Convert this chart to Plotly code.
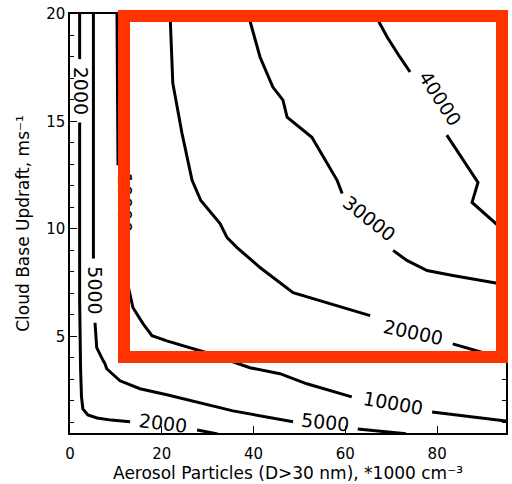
import plotly.graph_objects as go

levels = ["2000", "5000", "10000", "20000", "30000", "40000"]

c2000_x = [2.1, 2.1, None, 2.1, 2.1, 2.3, 2.5, 2.8, 3.9, 5.9, 9.0, 13.1, None, 27.7, 32.2]
c2000_y = [20.0, 17.9, None, 14.95, 6.7, 3.5, 2.2, 1.62, 1.34, 1.2, 1.1, 1.02, None, 0.64, 0.46]

c5000_x = [5.1, 5.1, None, 5.45, 5.82, 7.25, 7.63, 8.0, 10.9, 15.25, 21.1, 35.5, 48.6, None, 62.7, 73.2]
c5000_y = [20.0, 8.62, None, 5.63, 4.47, 3.86, 3.72, 3.49, 2.93, 2.56, 2.28, 1.53, 1.02, None, 0.69, 0.46]

c10000_x = [10.24, 10.46, None, 10.9, 11.76, 12.64, 13.73, 15.9, 17.86, 21.1, 30.5, 39.2, 45.75, 51.6, 61.4, None, 78.9, 89.3, 95.0]
c10000_y = [20.0, 12.96, None, 9.69, 8.06, 7.36, 6.33, 5.59, 5.03, 4.79, 4.19, 3.54, 3.26, 2.79, 2.18, None, 1.48, 1.2, 1.06]

c20000_x = [21.8, 22.4, 24.4, 26.6, 28.5, 32.7, 34.2, 36.4, 41.4, 48.6, 65.4, None, 83.4, 90.8, 95.0]
c20000_y = [20.0, 16.78, 14.45, 12.26, 11.32, 10.25, 9.6, 9.13, 8.2, 7.03, 5.96, None, 4.65, 4.19, 3.86]

c30000_x = [38.8, 41.4, 44.2, 46.4, 47.3, 52.7, 58.2, 59.3, None, 70.4, 73.4, 77.8, 83.4, 95.0]
c30000_y = [20.0, 18.0, 16.6, 15.99, 15.2, 14.26, 12.26, 11.65, None, 9.0, 8.53, 8.06, 7.83, 7.4]

c40000_x = [66.4, 69.1, 71.9, 74.1, None, 82.1, 88.9, 87.6, 93.7, 95.0]
c40000_y = [20.0, 18.93, 17.99, 17.3, None, 14.36, 12.16, 11.23, 10.06, 9.83]

# label positions (data units) and angles
label_text = ["2000", "5000", "10000", "2000", "5000", "10000", "20000", "30000", "40000"]
label_x = [2.3, 5.4, 11.9, 20.3, 55.6, 70.4, 74.7, 65.1, 80.6]
label_y = [16.45, 7.15, 11.25, 0.97, 1.02, 1.9, 5.21, 10.49, 16.08]
label_angle = [90, 90, 90, 7, 6, 10, 12, 38, 57]

x_ticks = [0, 20, 40, 60, 80]
y_ticks = [5, 10, 15, 20]

x_title = "Aerosol Particles (D>30 nm), *1000 cm⁻³"
y_title = "Cloud Base Updraft, ms⁻¹"

lines_x = [c2000_x, c5000_x, c10000_x, c20000_x, c30000_x, c40000_x]
lines_y = [c2000_y, c5000_y, c10000_y, c20000_y, c30000_y, c40000_y]

fig = go.Figure()
for name, xs, ys in zip(levels, lines_x, lines_y):
    fig.add_trace(go.Scatter(x=xs, y=ys, mode="lines", name=name,
                             line=dict(color="black", width=3),
                             connectgaps=False, showlegend=False))

FONT = "DejaVu Sans"
annotations = []
for t, x, y, a in zip(label_text, label_x, label_y, label_angle):
    annotations.append(dict(x=x, y=y, xref="x", yref="y", text=t, showarrow=False,
                            textangle=a, font=dict(family=FONT, size=19, color="black"),
                            xanchor="center", yanchor="middle"))

# red highlight frame (drawn as a bordered annotation so it sits on top of labels)
annotations.append(dict(x=0.5568, y=0.5883, xref="paper", yref="paper", text=" ",
                        showarrow=False, width=366, height=329, borderpad=0,
                        borderwidth=12, bordercolor="#ff3300", bgcolor="rgba(0,0,0,0)",
                        font=dict(size=10),
                        xanchor="center", yanchor="middle"))

axis_common = dict(showline=True, linecolor="black", linewidth=1.5, mirror="allticks",
                   ticks="inside", ticklen=7, tickwidth=1, tickcolor="black",
                   showgrid=False, zeroline=False,
                   tickfont=dict(family=FONT, size=15, color="black"))

fig.update_layout(
    width=512, height=484,
    margin=dict(l=70, r=6, t=14, b=51, autoexpand=False),
    paper_bgcolor="white", plot_bgcolor="white",
    xaxis=dict(range=[0, 95], tickvals=x_ticks, ticktext=[str(v) for v in x_ticks],
               ticklabelstandoff=6,
               title=dict(text=x_title,
                          font=dict(family=FONT, size=17, color="black"), standoff=3),
               **axis_common),
    yaxis=dict(range=[0.5, 20], tickvals=y_ticks, ticktext=[str(v) for v in y_ticks],
               minor=dict(dtick=1, ticklen=4, tickwidth=1, tickcolor="black", ticks="inside"),
               title=dict(text=y_title,
                          font=dict(family=FONT, size=17, color="black"), standoff=12),
               **axis_common),
    annotations=annotations,
)

fig.write_html("out.html", config={"displayModeBar": False},
               post_script="document.body.style.margin='0px';")
